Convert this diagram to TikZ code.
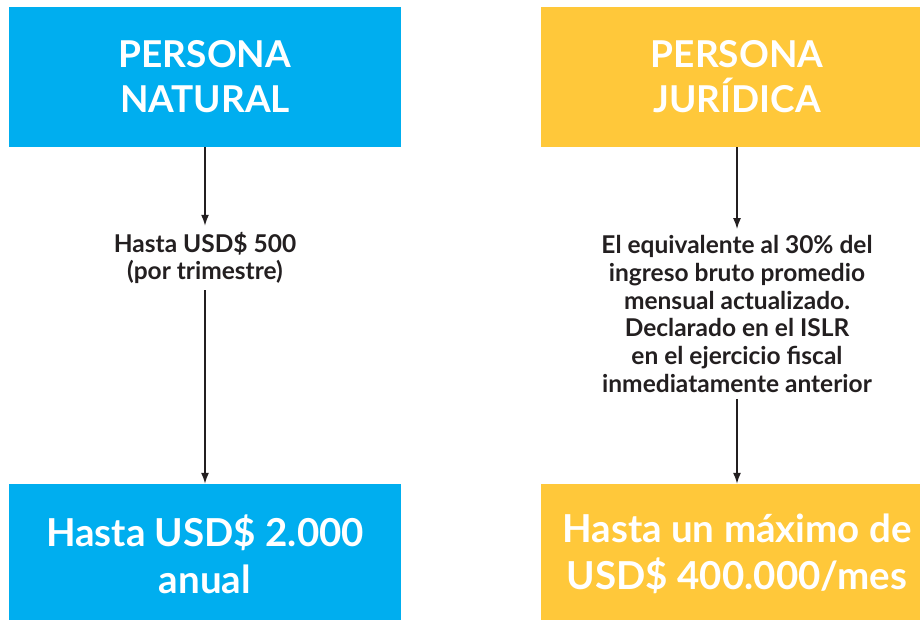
\documentclass[tikz,border=0pt]{standalone}
\usepackage{fontspec}
\setmainfont{Lato}
\usepackage{xcolor}
\usepackage{tikz}
\usetikzlibrary{arrows.meta}

\definecolor{azul}{RGB}{0,174,239}
\definecolor{amarillo}{RGB}{255,200,58}
\definecolor{tinta}{RGB}{35,31,32}

\tikzset{
  caja/.style={fill=#1, draw=none, minimum width=392pt, minimum height=140pt,
    align=center, text=white, inner sep=0pt},
  titulo/.style={caja=#1, font=\fontsize{37}{45}\selectfont\bfseries},
  monto/.style={caja=#1, font=\fontsize{38.5}{47}\selectfont\bfseries},
  nota/.style={align=center, text=tinta, inner sep=6pt,
    font=\fontsize{24.5}{27.8}\selectfont\bfseries},
  flecha/.style={draw=tinta, line width=1.5pt, -{Latex[length=11pt,width=8pt]}}
}

\begin{document}
\begin{tikzpicture}[x=1pt,y=-1pt]
	 \useasboundingbox (0,0) rectangle (920,620);
	 % columna persona natural
	 \node[titulo=azul] (natural) at (205,77) {PERSONA\\NATURAL};
	 \node[nota] (limnatural) at (205,258) {Hasta USD\$ 500\\(por trimestre)};
	 \node[monto=azul] (anual) at (205,554) {Hasta USD\$ 2.000\\anual};
	 % columna persona juridica
	 \node[titulo=amarillo] (juridica) at (737,77) {PERSONA\\JURÍDICA};
	 \node[nota] (limjuridica) at (737,314) {El equivalente al 30\% del\\ingreso bruto promedio\\mensual actualizado.\\Declarado en el ISLR\\en el ejercicio fiscal\\inmediatamente anterior};
	 \node[monto=amarillo] (maximo) at (737,554) {Hasta un máximo de\\USD\$ 400.000/mes};
	 \draw[flecha] (natural) -- (limnatural);
	 \draw[flecha] (limnatural) -- (anual);
	 \draw[flecha] (juridica) -- (limjuridica);
	 \draw[flecha] (limjuridica) -- (maximo);
\end{tikzpicture}
\end{document}
